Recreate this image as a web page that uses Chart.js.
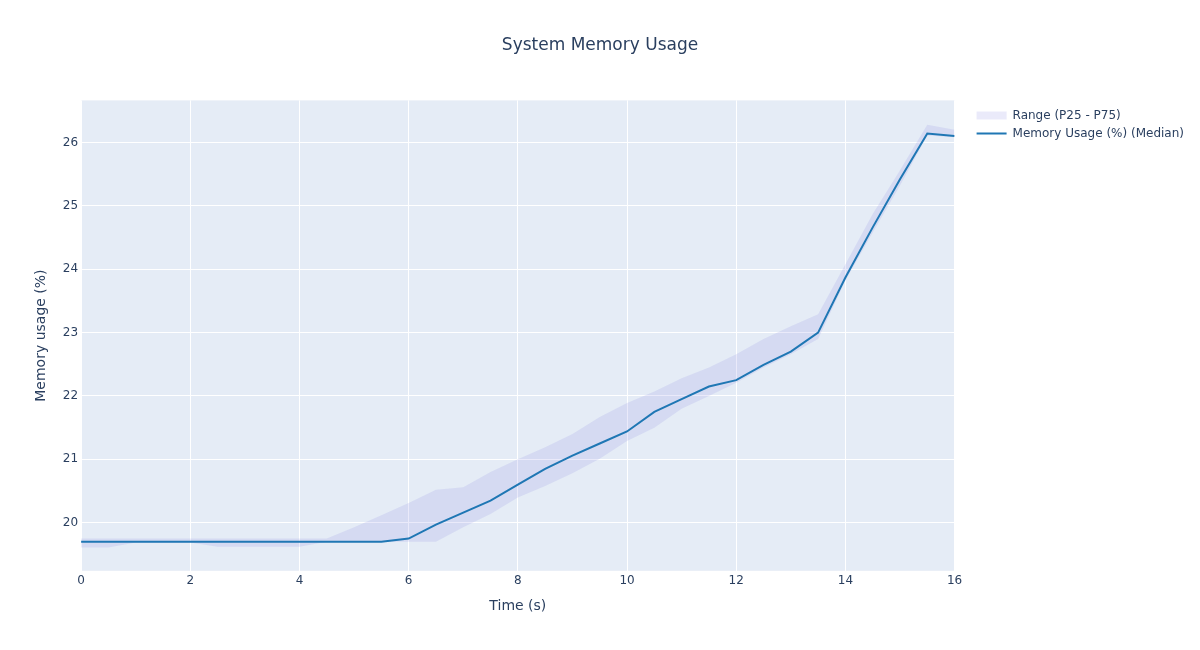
<!DOCTYPE html>
<html>
<head>
<meta charset="utf-8">
<title>System Memory Usage</title>
<script src="https://cdn.jsdelivr.net/npm/chart.js@4.4.1/dist/chart.umd.min.js"></script>
<style>
  html, body { margin: 0; padding: 0; background: #fff; }
  #wrap { width: 1200px; height: 650px; }
</style>
</head>
<body>
<div id="wrap"><canvas id="canvas" width="1200" height="650"></canvas></div>
<script>
// time axis (s)
var timeS = [0, 0.5, 1, 1.5, 2, 2.5, 3, 3.5, 4, 4.5, 5, 5.5, 6, 6.5, 7, 7.5, 8,
             8.5, 9, 9.5, 10, 10.5, 11, 11.5, 12, 12.5, 13, 13.5, 14, 14.5, 15, 15.5, 16];

// memory usage (%) - median
var medianMem = [19.70, 19.70, 19.70, 19.70, 19.70, 19.70, 19.70, 19.70, 19.70, 19.70, 19.70, 19.70,
                 19.75, 19.97, 20.16, 20.35, 20.60, 20.85, 21.06, 21.25, 21.44, 21.75, 21.95, 22.15,
                 22.25, 22.49, 22.70, 23.00, 23.87, 24.66, 25.42, 26.14, 26.10];

// upper bound of band (P75)
var p75Mem = [19.75, 19.75, 19.75, 19.75, 19.75, 19.75, 19.75, 19.75, 19.75, 19.75, 19.93, 20.12,
              20.31, 20.52, 20.56, 20.80, 21.00, 21.19, 21.40, 21.67, 21.89, 22.07, 22.28, 22.45,
              22.66, 22.90, 23.10, 23.29, 24.08, 24.87, 25.56, 26.28, 26.20];

// lower bound of band (P25)
var p25Mem = [19.61, 19.61, 19.69, 19.69, 19.69, 19.62, 19.62, 19.62, 19.62, 19.70, 19.70, 19.70,
              19.70, 19.70, 19.93, 20.14, 20.40, 20.58, 20.78, 21.01, 21.29, 21.50, 21.80, 22.00,
              22.21, 22.45, 22.66, 22.90, 23.82, 24.58, 25.32, 26.11, 26.08];

var xTicks = [0, 2, 4, 6, 8, 10, 12, 14, 16];
var yTicks = [20, 21, 22, 23, 24, 25, 26];

var textColor = '#2a3f5f';
var bandColor = 'rgba(150,150,230,0.2)';
var lineColor = '#1f77b4';

function pts(arr) {
    return timeS.map(function (t, i) { return { x: t, y: arr[i] }; });
}

// plot background like plotly
var plotBg = {
    id: 'plotBg',
    beforeDraw: function (chart) {
        var a = chart.chartArea, ctx = chart.ctx;
        ctx.save();
        ctx.fillStyle = '#E5ECF6';
        ctx.fillRect(a.left, a.top, a.right - a.left, a.bottom - a.top);
        ctx.restore();
    }
};

// push the legend a bit away from the plot
var legendGap = {
    id: 'legendGap',
    afterLayout: function (chart) {
        if (chart.legend) {
            chart.legend.left += 16;
            chart.legend.right += 16;
        }
    }
};

Chart.defaults.font.family = "'DejaVu Sans', sans-serif";
Chart.defaults.color = textColor;

window.onload = function () {
    var ctx = document.getElementById('canvas').getContext('2d');
    window.myLine = new Chart(ctx, {
        type: 'line',
        data: {
            datasets: [
                {
                    label: 'Memory Usage (%) (Median)',
                    data: pts(medianMem),
                    borderColor: lineColor,
                    backgroundColor: lineColor,
                    borderWidth: 2,
                    pointRadius: 0,
                    fill: false,
                    tension: 0
                },
                {
                    label: 'Range (P25 - P75)',
                    data: pts(p75Mem),
                    borderWidth: 0,
                    borderColor: 'rgba(0,0,0,0)',
                    backgroundColor: bandColor,
                    pointRadius: 0,
                    fill: '+1',
                    tension: 0
                },
                {
                    label: 'p25',
                    data: pts(p25Mem),
                    borderWidth: 0,
                    borderColor: 'rgba(0,0,0,0)',
                    backgroundColor: bandColor,
                    pointRadius: 0,
                    fill: false,
                    tension: 0
                }
            ]
        },
        options: {
            responsive: false,
            animation: false,
            layout: { padding: { top: 0, right: 22, bottom: 35, left: 22 } },
            plugins: {
                title: {
                    display: true,
                    text: 'System Memory Usage',
                    color: textColor,
                    font: { size: 17, weight: 'normal' },
                    padding: { top: 35, bottom: 45 }
                },
                legend: {
                    position: 'right',
                    align: 'start',
                    // empty title just pushes the items down to the plot top
                    title: { display: true, text: '', font: { size: 12 }, padding: { top: 89, bottom: 0 } },
                    labels: {
                        usePointStyle: true,
                        pointStyleWidth: 30,
                        boxHeight: 8,
                        padding: 6,
                        color: textColor,
                        font: { size: 12 },
                        generateLabels: function (chart) {
                            return [
                                { text: 'Range (P25 - P75)', pointStyle: 'rect', fillStyle: 'rgba(150,150,230,0.2)',
                                  strokeStyle: 'rgba(0,0,0,0)', lineWidth: 0, datasetIndex: 1, fontColor: textColor },
                                { text: 'Memory Usage (%) (Median)', pointStyle: 'line', fillStyle: lineColor,
                                  strokeStyle: lineColor, lineWidth: 2, datasetIndex: 0, fontColor: textColor }
                            ];
                        }
                    }
                },
                tooltip: { enabled: false }
            },
            scales: {
                x: {
                    type: 'linear',
                    min: 0,
                    max: 16,
                    afterBuildTicks: function (axis) {
                        axis.ticks = xTicks.map(function (v) { return { value: v }; });
                    },
                    ticks: { padding: 3, color: textColor, font: { size: 12 } },
                    grid: { color: '#ffffff', lineWidth: 1, drawTicks: false },
                    border: { display: false },
                    title: {
                        display: true,
                        text: 'Time (s)',
                        color: textColor,
                        font: { size: 14 },
                        padding: { top: 7, bottom: 0 }
                    }
                },
                y: {
                    type: 'linear',
                    min: 19.242,
                    max: 26.663,
                    afterBuildTicks: function (axis) {
                        axis.ticks = yTicks.map(function (v) { return { value: v }; });
                    },
                    ticks: { padding: 3, color: textColor, font: { size: 12 } },
                    grid: { color: '#ffffff', lineWidth: 1, drawTicks: false },
                    border: { display: false },
                    title: {
                        display: true,
                        text: 'Memory usage (%)',
                        color: textColor,
                        font: { size: 14 },
                        padding: { top: 11, bottom: 10 }
                    }
                }
            }
        },
        plugins: [plotBg, legendGap]
    });
};
</script>
</body>
</html>
